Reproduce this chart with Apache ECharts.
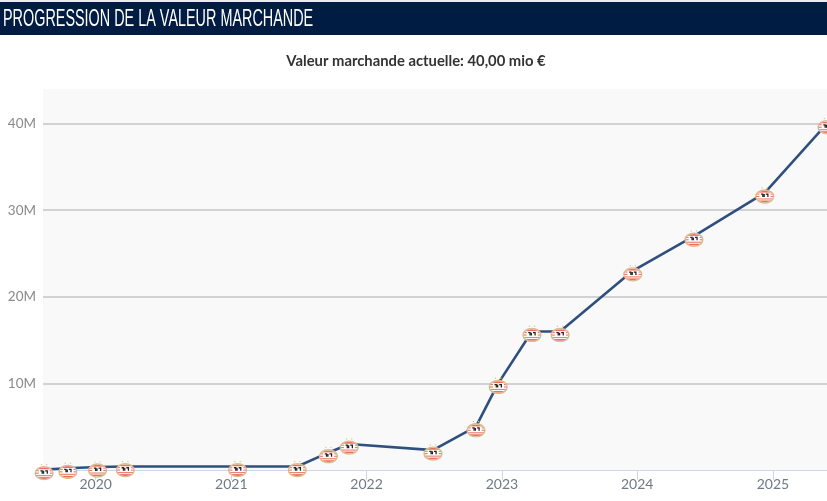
<!DOCTYPE html>
<html>
<head>
<meta charset="utf-8">
<title>Progression de la valeur marchande</title>
<style>html,body{margin:0;padding:0;background:#fff}#chart{width:827px;height:501px}</style>
<script src="https://cdn.jsdelivr.net/npm/echarts@6/dist/echarts.min.js"></script>
</head>
<body>
<div id="chart"></div>
<script>
const heading = 'PROGRESSION DE LA VALEUR MARCHANDE';
const currentValue = 'Valeur marchande actuelle: 40,00 mio €';
const dates = ['2019-08-15','2019-10-18','2020-01-06','2020-03-21','2021-01-18','2021-06-28','2021-09-20','2021-11-15','2022-06-29','2022-10-23','2022-12-22','2023-03-23','2023-06-07','2023-12-20','2024-06-02','2024-12-10','2025-05-27'];
const values = [0.05,0.2,0.35,0.4,0.4,0.4,2,3,2.3,5,10,16,16,23,27,32,40];
const yTicks = [10,20,30,40];

// Club crest used as the point marker
const crest = `<svg xmlns="http://www.w3.org/2000/svg" viewBox="0 0 38 34" width="20" height="18">
<defs><clipPath id="c"><ellipse cx="19" cy="20" rx="16" ry="11"/></clipPath></defs>
<circle cx="14" cy="3.5" r="1.4" fill="#d8c8a4"/><circle cx="24" cy="3.5" r="1.4" fill="#d8c8a4"/>
<ellipse cx="19" cy="20" rx="17" ry="12.4" fill="#fff" stroke="#d6bc90" stroke-width="2.6"/>
<g clip-path="url(#c)"><rect x="0" y="9" width="38" height="3.6" fill="#e8705c"/>
<rect x="0" y="23.6" width="38" height="2.2" fill="#ec8472"/>
<rect x="0" y="27.6" width="38" height="3.6" fill="#e8705c"/>
<rect x="2" y="14.4" width="7" height="2" fill="#e8705c"/>
<rect x="2" y="19" width="7" height="2" fill="#e8705c"/>
<rect x="30" y="14.4" width="7" height="2" fill="#e8705c"/>
<rect x="30" y="19" width="7" height="2" fill="#e8705c"/></g>
<path d="M12 15.5h3.4v5.5M18 15.5v5.5M21 15.5h4v5.5" fill="none" stroke="#222" stroke-width="2.4"/>
</svg>`;
const crestSymbol = 'image://data:image/svg+xml;charset=utf-8,' + encodeURIComponent(crest);

const chart = echarts.init(document.getElementById('chart'), null, {renderer: 'canvas'});
chart.setOption({
  animation: false,
  backgroundColor: '#fff',
  graphic: [
    {type: 'rect', z: 0, shape: {x: 0, y: 0, width: 827, height: 2}, style: {fill: '#ececec'}},
    {type: 'rect', z: 0, shape: {x: 0, y: 2, width: 827, height: 33}, style: {fill: '#001c42'}},
    {type: 'text', z: 1, x: 3, y: 19, scaleX: 0.6, originX: 0, originY: 0,
      style: {text: heading, fill: '#fff', font: '24px "Liberation Sans"', verticalAlign: 'middle'}},
    {type: 'text', z: 1, x: 416, y: 61,
      style: {text: currentValue, fill: '#333', font: 'bold 14.8px Lato', align: 'center', verticalAlign: 'middle'}}
  ],
  grid: {left: 43, right: 0, top: 89, bottom: 31, show: true, backgroundColor: '#f9f9f9', borderWidth: 0},
  xAxis: {
    type: 'time',
    min: '2019-08-12',
    max: '2025-05-27',
    minInterval: 365 * 24 * 3600 * 1000,
    maxInterval: 366 * 24 * 3600 * 1000,
    axisLine: {lineStyle: {color: '#ccd6eb', width: 1}},
    axisTick: {show: true, length: 10, lineStyle: {color: '#ccd6eb'}},
    splitLine: {show: false},
    axisLabel: {color: '#6f7a85', fontFamily: 'Lato', fontSize: 14, margin: 7, showMinLabel: false, showMaxLabel: false,
      formatter: '{yyyy}', hideOverlap: false}
  },
  yAxis: {
    type: 'value',
    min: 0,
    max: 44,
    interval: 10,
    axisLine: {show: false},
    axisTick: {show: false},
    splitLine: {showMinLine: false, showMaxLine: false, lineStyle: {color: '#c4c4c4', width: 1.5}},
    axisLabel: {color: '#8a8a8a', fontFamily: 'Lato', fontSize: 13.5, margin: 7,
      formatter: v => yTicks.includes(v) ? v + 'M' : ''}
  },
  series: [{
    type: 'line',
    data: dates.map((d, i) => [d, values[i]]),
    lineStyle: {color: '#2f4f7f', width: 2.6},
    symbol: crestSymbol,
    symbolSize: [20, 18],
    symbolOffset: [0, 2],
    showAllSymbol: true,
    clip: false,
    z: 3
  }]
});
</script>
</body>
</html>
